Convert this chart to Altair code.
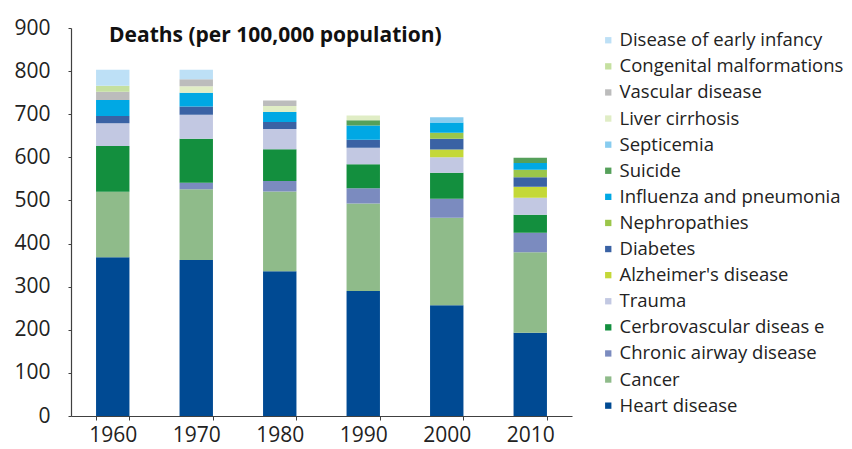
import altair as alt
import pandas as pd

years = ["1960", "1970", "1980", "1990", "2000", "2010"]

# stacking order: bottom -> top
causes = [
    "Heart disease", "Cancer", "Chronic airway disease", "Cerbrovascular diseas e",
    "Trauma", "Alzheimer's disease", "Diabetes", "Nephropathies",
    "Influenza and pneumonia", "Suicide", "Septicemia", "Liver cirrhosis",
    "Vascular disease", "Congenital malformations", "Disease of early infancy",
]
colors = [
    "#004a93", "#8fbb8a", "#7b8bbf", "#138f3e",
    "#c2c8e2", "#c4d838", "#3a62a4", "#9bc64a",
    "#00a8e4", "#55a05a", "#88ccef", "#e0edc5",
    "#bcbcbc", "#c5e0a0", "#bde0f6",
]

heart      = [368, 362, 336, 290, 257, 193]
cancer     = [152, 164, 185, 203, 203, 187]
chronic    = [0, 15, 24, 35, 44, 45]
cerebro    = [106, 102, 74, 56, 60, 42]
trauma     = [53, 56, 47, 38, 36, 39]
alzheimer  = [0, 0, 0, 0, 18, 26]
diabetes   = [17, 19, 16, 19, 25, 22]
nephro     = [0, 0, 0, 0, 14, 17]
influenza  = [37, 32, 23, 33, 24, 16]
suicide    = [0, 0, 0, 12, 0, 12]
septicemia = [0, 0, 0, 0, 12, 0]
liver      = [0, 15, 14, 11, 0, 0]
vascular   = [19, 16, 13, 0, 0, 0]
congenital = [14, 0, 0, 0, 0, 0]
infancy    = [37, 22, 0, 0, 0, 0]

series = [heart, cancer, chronic, cerebro, trauma, alzheimer, diabetes, nephro,
          influenza, suicide, septicemia, liver, vascular, congenital, infancy]

rows = []
for i, (cause, vals) in enumerate(zip(causes, series)):
    for y, v in zip(years, vals):
        rows.append({"Year": y, "Cause": cause, "Deaths": v, "order": i})
df = pd.DataFrame(rows)

legend_domain = causes[::-1]
legend_range = colors[::-1]

chart = alt.Chart(df).mark_bar().encode(
    x=alt.X("Year:N", sort=years,
            scale=alt.Scale(paddingInner=0.6, paddingOuter=0.3),
            axis=alt.Axis(title=None, labelAngle=0, tickBand="extent",
                          labelFontSize=21, labelPadding=4, tickSize=4,
                          labelFont="Open Sans", labelColor="#222222",
                          domainColor="#404040", tickColor="#404040",
                          domainWidth=1.2, grid=False)),
    y=alt.Y("Deaths:Q", stack="zero",
            scale=alt.Scale(domain=[0, 900], nice=False),
            axis=alt.Axis(title=None, values=list(range(0, 901, 100)),
                          labelFontSize=21, labelPadding=18, tickSize=3,
                          labelFont="Open Sans", labelColor="#222222",
                          domainColor="#404040", tickColor="#404040",
                          domainWidth=1.2, grid=False)),
    color=alt.Color("Cause:N",
                    scale=alt.Scale(domain=legend_domain, range=legend_range),
                    legend=alt.Legend(title=None, orient="none", legendX=528, legendY=3,
                                      symbolType="square", symbolSize=40,
                                      labelFontSize=18.5, labelFont="Open Sans",
                                      labelColor="#222222", rowPadding=7.1,
                                      labelOffset=2, padding=0, symbolStrokeWidth=0,
                                      labelLimit=300)),
    order=alt.Order("order:Q", sort="ascending"),
).properties(
    width=501, height=388,
    autosize=alt.AutoSizeParams(type="none"),
    padding={"left": 63, "top": 20, "right": 272, "bottom": 30},
    title=alt.TitleParams("Deaths (per 100,000 population)", anchor="start",
                          frame="group",
                          fontSize=21, fontWeight="bold", font="Open Sans",
                          color="#111111", dx=38, dy=29, offset=0),
).configure_view(stroke=None)

chart.save("out.html", embed_options={"renderer": "svg", "actions": False})
